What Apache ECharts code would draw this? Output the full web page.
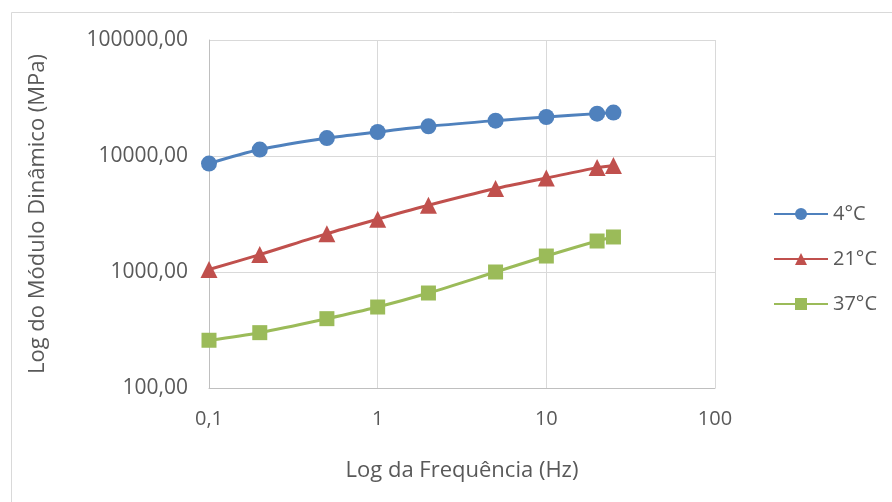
<!DOCTYPE html>
<html>
<head>
<meta charset="utf-8">
<script src="https://cdn.jsdelivr.net/npm/echarts@6/dist/echarts.min.js"></script>
<style>html,body{margin:0;padding:0;background:#fff;}#c{width:892px;height:502px;}</style>
</head>
<body>
<div id="c"></div>
<script>
const frequencies = [0.1, 0.2, 0.5, 1, 2, 5, 10, 20, 25];
const seriesNames = ['4°C', '21°C', '37°C'];
const values4C = [8600, 11360, 14280, 16110, 18030, 20180, 21680, 23190, 23670];
const values21C = [1050, 1413, 2140, 2850, 3760, 5240, 6460, 7940, 8300];
const values37C = [258, 300, 396, 499, 659, 1000, 1373, 1850, 2004];
const xAxisTitle = 'Log da Frequência (Hz)';
const yAxisTitle = 'Log do Módulo Dinâmico (MPa)';

const FONT = '"Open Sans", sans-serif';
const TXT = '#595959';
const pairs = v => frequencies.map((f, i) => [f, v[i]]);
const fmtNum = (v, d) => v.toFixed(d).replace('.', ',');

const chart = echarts.init(document.getElementById('c'), null, {renderer: 'canvas'});
chart.setOption({
  animation: false,
  backgroundColor: '#fff',
  graphic: [{
    type: 'rect', left: 9, top: 10, silent: true,
    shape: {width: 900, height: 600},
    style: {fill: 'none', stroke: '#d9d9d9', lineWidth: 1}
  }],
  grid: {left: 209, top: 40, right: 177, bottom: 114, containLabel: false},
  legend: {
    orient: 'vertical', left: 773, top: 204, padding: 0,
    itemWidth: 54, itemHeight: 15, itemGap: 25,
    textStyle: {fontFamily: FONT, fontSize: 20, color: TXT, lineHeight: 20},
    data: seriesNames
  },
  xAxis: {
    type: 'log', logBase: 10, min: 0.1, max: 100,
    name: xAxisTitle, nameLocation: 'middle', nameGap: 72,
    nameTextStyle: {fontFamily: FONT, fontSize: 22, color: TXT},
    axisLine: {lineStyle: {color: '#bfbfbf', width: 1}},
    axisTick: {show: false},
    axisLabel: {fontFamily: FONT, fontSize: 20, color: TXT, margin: 21,
      formatter: v => (v < 1 ? fmtNum(v, 1) : String(Math.round(v)))},
    splitLine: {show: true, lineStyle: {color: '#d9d9d9', width: 1}},
    minorTick: {show: false}
  },
  yAxis: {
    type: 'log', logBase: 10, min: 100, max: 100000,
    name: yAxisTitle, nameLocation: 'middle', nameGap: 160, nameRotate: 90,
    nameTextStyle: {fontFamily: FONT, fontSize: 22, color: TXT},
    axisLine: {show: true, lineStyle: {color: '#bfbfbf', width: 1}},
    axisTick: {show: false},
    axisLabel: {fontFamily: FONT, fontSize: 21, color: TXT, margin: 21,
      formatter: v => fmtNum(v, 2)},
    splitLine: {show: true, lineStyle: {color: '#d9d9d9', width: 1}}
  },
  series: [
    {name: seriesNames[0], type: 'line', data: pairs(values4C), smooth: 0.3,
     symbol: 'circle', symbolSize: 16, lineStyle: {width: 3, color: '#4F81BD'},
     itemStyle: {color: '#4F81BD'}},
    {name: seriesNames[1], type: 'line', data: pairs(values21C), smooth: 0.3,
     symbol: 'triangle', symbolSize: 17, lineStyle: {width: 3, color: '#C0504D'},
     itemStyle: {color: '#C0504D'}},
    {name: seriesNames[2], type: 'line', data: pairs(values37C), smooth: 0.3,
     symbol: 'rect', symbolSize: 15, lineStyle: {width: 3, color: '#9BBB59'},
     itemStyle: {color: '#9BBB59'}}
  ]
});
</script>
</body>
</html>
